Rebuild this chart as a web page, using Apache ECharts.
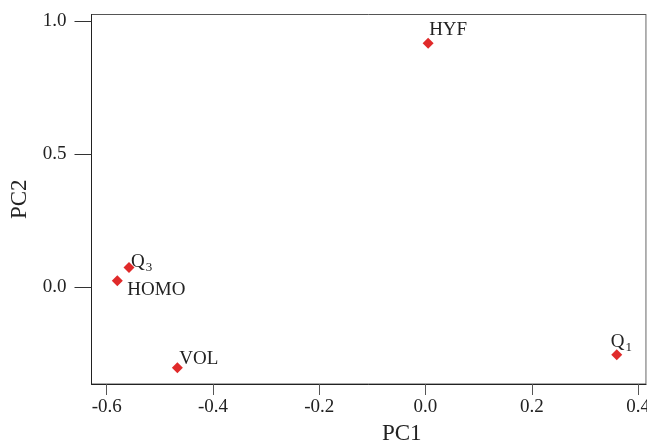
<!DOCTYPE html>
<html>
<head>
<meta charset="utf-8">
<script src="https://cdn.jsdelivr.net/npm/echarts@6/dist/echarts.min.js"></script>
<style>
  html, body { margin: 0; padding: 0; background: #fff; }
  #chart { width: 647px; height: 444px; }
</style>
</head>
<body>
<div id="chart"></div>
<script>
// variable names and PCA loadings
const names = ['HYF', 'Q3', 'HOMO', 'VOL', 'Q1']
const pc1 = [0.005, -0.558, -0.580, -0.467, 0.360]
const pc2 = [0.916, 0.074, 0.025, -0.302, -0.253]
const xTicks = [-0.6, -0.4, -0.2, 0.0, 0.2, 0.4]
const yTicks = [0.0, 0.5, 1.0]

// label text + offset from the marker centre
const labelStyle = {
  HYF: { text: 'HYF', offset: [1, -13] },
  Q3: { text: '{m|Q}{s|3}', offset: [2, -6] },
  HOMO: { text: 'HOMO', offset: [10, 9] },
  VOL: { text: 'VOL', offset: [2, -9] },
  Q1: { text: '{m|Q}{s|1}', offset: [-6, -13] }
}

const font = 'Liberation Serif, Times New Roman, serif'
const myChart = echarts.init(document.getElementById('chart'))

const data = names.map((n, i) => ({
  value: [pc1[i], pc2[i]],
  name: n,
  label: {
    formatter: labelStyle[n].text,
    offset: labelStyle[n].offset
  }
}))

myChart.setOption({
  animation: false,
  grid: {
    left: 91.5,
    right: 1,
    top: 14.5,
    bottom: 60,
    outerBoundsMode: 'none',
    containLabel: false,
    show: true,
    borderColor: '#555',
    borderWidth: 1
  },
  xAxis: {
    type: 'value',
    min: -0.6286,
    max: 0.415,
    name: 'PC1',
    nameLocation: 'middle',
    nameGap: 38,
    nameTextStyle: { fontFamily: font, fontSize: 23, color: '#222', padding: [0, 0, 0, 66] },
    splitLine: { show: false },
    axisLine: { onZero: false, lineStyle: { color: '#222', width: 1 } },
    axisTick: { length: 11, lineStyle: { color: '#555' }, customValues: xTicks },
    axisLabel: {
      fontFamily: font,
      fontSize: 19,
      color: '#222',
      margin: 14,
      customValues: xTicks,
      formatter: v => v.toFixed(1)
    },
    axisPointer: { show: false }
  },
  yAxis: [{
    type: 'value',
    min: -0.363,
    max: 1.024,
    name: 'PC2',
    nameLocation: 'middle',
    nameGap: 58,
    nameTextStyle: { fontFamily: font, fontSize: 23, color: '#222' },
    splitLine: { show: false },
    axisLine: { show: true, onZero: false, lineStyle: { color: '#222', width: 1 } },
    axisTick: { show: true, length: 17, lineStyle: { color: '#333' }, customValues: yTicks },
    axisLabel: {
      fontFamily: font,
      fontSize: 19,
      color: '#222',
      margin: 25,
      customValues: yTicks,
      formatter: v => v.toFixed(1)
    }
  }, {
    // 右侧框线（浅灰）
    type: 'value',
    position: 'right',
    min: -0.363,
    max: 1.024,
    splitLine: { show: false },
    axisLine: { show: true, onZero: false, lineStyle: { color: '#bbb', width: 1 } },
    axisTick: { show: false },
    axisLabel: { show: false }
  }],
  series: [{
    type: 'scatter',
    symbol: 'diamond',
    symbolSize: 11,
    itemStyle: { color: '#e02a2a', opacity: 1 },
    label: {
      show: true,
      position: 'inside',
      align: 'left',
      verticalAlign: 'middle',
      fontFamily: font,
      fontSize: 19,
      color: '#222',
      opacity: 1,
      rich: {
        m: { fontFamily: font, fontSize: 19, color: '#222' },
        s: { fontFamily: font, fontSize: 13, color: '#222', padding: [11, 0, 0, 1] }
      }
    },
    data: data
  }]
})
</script>
</body>
</html>
